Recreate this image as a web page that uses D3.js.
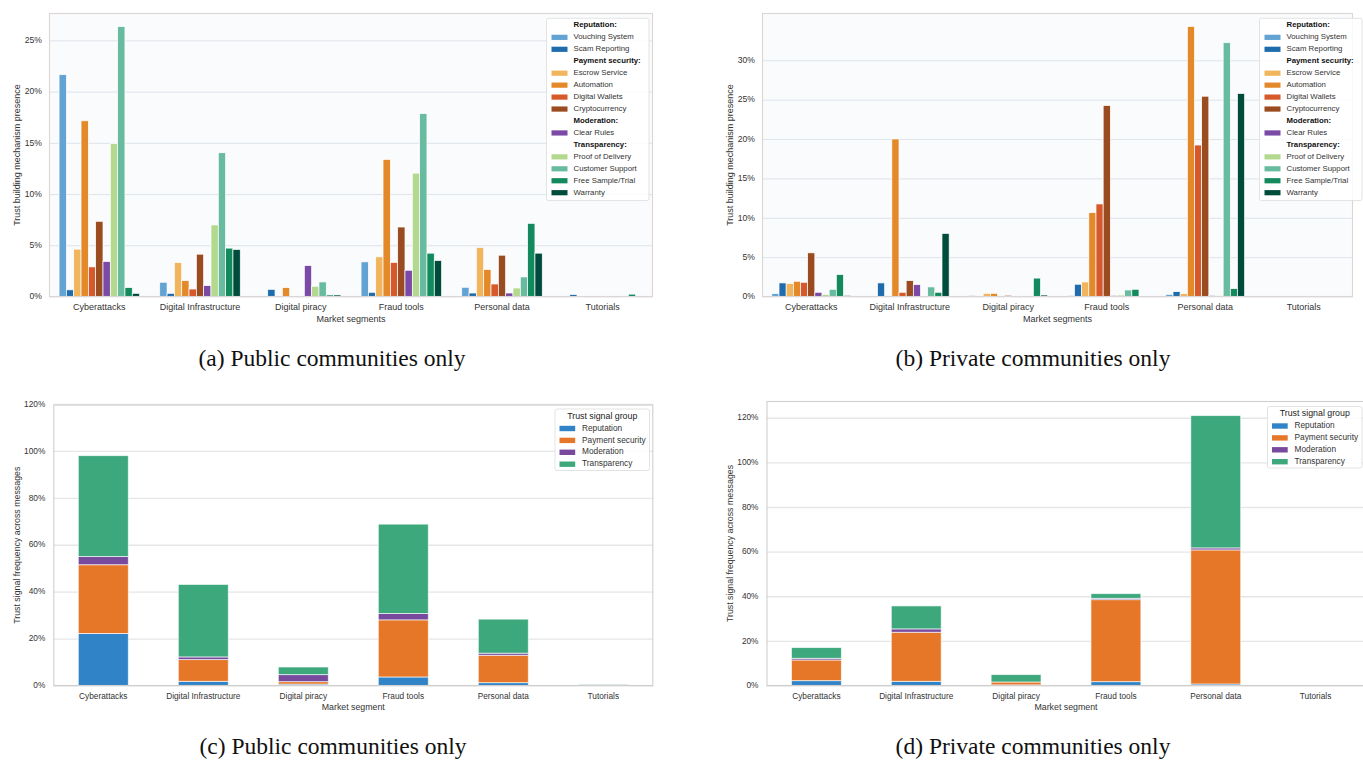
<!DOCTYPE html>
<html>
<head>
<meta charset="utf-8">
<script src="https://cdn.jsdelivr.net/npm/d3@7"></script>
<style>
  body { margin: 0; background: #ffffff; }
  svg { display: block; }
  text { font-family: "Liberation Sans", Arial, Helvetica, sans-serif; }
  .caption { font-family: "Liberation Serif", "Times New Roman", serif; }
</style>
</head>
<body>
<svg id="fig" width="1363" height="760"></svg>
<script>
// ---- data ----
const segments = ["Cyberattacks", "Digital Infrastructure", "Digital piracy", "Fraud tools", "Personal data", "Tutorials"];

const mechanisms = ["Vouching System", "Scam Reporting", "Escrow Service", "Automation", "Digital Wallets",
  "Cryptocurrency", "Clear Rules", "Proof of Delivery", "Customer Support", "Free Sample/Trial", "Warranty"];
const mechanismGroupHeaders = ["Reputation:", "Payment security:", "Moderation:", "Transparency:"];
const mechanismGroupOf = [0, 0, 1, 1, 1, 1, 2, 3, 3, 3, 3];
const mechanismColors = ["#62a3d3", "#1f6cad", "#f0b55d", "#e4892a", "#d6582b", "#9a4b1f",
  "#7a4aa6", "#b2d98e", "#69bb9f", "#128a5e", "#004c3c"];

// presence (%) of each mechanism, one row per segment, columns follow `mechanisms`
const publicPresence = [
  [21.7, 0.7, 4.67, 17.2, 2.94, 7.39, 3.46, 14.97, 26.4, 0.92, 0.36],
  [1.44, 0.36, 3.37, 1.6, 0.78, 4.18, 1.11, 7.03, 14.08, 4.77, 4.64],
  [0, 0.75, 0, 0.92, 0, 0, 3.07, 1.05, 1.47, 0.2, 0.2],
  [3.43, 0.46, 3.92, 13.43, 3.37, 6.83, 2.61, 12.09, 17.9, 4.28, 3.56],
  [0.95, 0.39, 4.84, 2.68, 1.27, 4.08, 0.39, 0.88, 1.96, 7.19, 4.28],
  [0, 0.25, 0.1, 0, 0, 0, 0, 0, 0.06, 0.28, 0]
];
const privatePresence = [
  [0.43, 1.79, 1.7, 2.0, 1.87, 5.61, 0.6, 0.34, 0.98, 2.85, 0.21],
  [0, 1.79, 0, 20.07, 0.6, 2.08, 1.57, 0, 1.28, 0.6, 8.08],
  [0.2, 0, 0.47, 0.47, 0, 0.22, 0, 0, 0, 2.4, 0.25],
  [0.2, 1.62, 1.91, 10.71, 11.82, 24.32, 0.2, 0.25, 0.89, 0.98, 0],
  [0.34, 0.68, 0.43, 34.35, 19.3, 25.5, 0.2, 0.2, 32.3, 1.06, 25.85],
  [0, 0, 0, 0, 0, 0, 0, 0, 0, 0, 0]
];

const signalGroups = ["Reputation", "Payment security", "Moderation", "Transparency"];
const signalColors = ["#3083c6", "#e67728", "#774a9e", "#3ea87d"];

// frequency (%) per signal group, one row per segment, columns follow `signalGroups`
const publicFrequency = [
  [22.4, 29.3, 3.5, 43.0],
  [2.0, 9.26, 1.14, 30.9],
  [0.8, 1.05, 3.0, 3.25],
  [3.85, 24.35, 2.7, 38.1],
  [1.43, 11.67, 0.9, 14.5],
  [0.25, 0.1, 0, 0.35]
];
const privateFrequency = [
  [2.4, 9.27, 0.75, 4.8],
  [2.1, 22.0, 1.5, 10.3],
  [0.5, 1.3, 0, 3.3],
  [1.95, 36.75, 0.6, 2.1],
  [0.9, 60.1, 0.9, 59.3],
  [0, 0, 0, 0]
];

const presenceTicksPublic = [0, 5, 10, 15, 20, 25];
const presenceTicksPrivate = [0, 5, 10, 15, 20, 25, 30];
const frequencyTicks = [0, 20, 40, 60, 80, 100, 120];

const captions = ["(a) Public communities only", "(b) Private communities only",
  "(c) Public communities only", "(d) Private communities only"];

// ---- drawing ----
const svg = d3.select("#fig");

function axesFrame(g, box, y, ticks, opts) {
  g.append("rect")
    .attr("x", box.left).attr("y", box.top)
    .attr("width", box.right - box.left).attr("height", box.bottom - box.top)
    .attr("fill", opts.bg);
  g.selectAll("line.grid").data(ticks).join("line")
    .attr("class", "grid")
    .attr("x1", box.left).attr("x2", box.right)
    .attr("y1", d => y(d)).attr("y2", d => y(d))
    .attr("stroke", opts.grid).attr("stroke-width", opts.gridWidth);
  g.selectAll("text.ytick").data(ticks).join("text")
    .attr("class", "ytick")
    .attr("x", box.left - opts.tickGap).attr("y", d => y(d))
    .attr("text-anchor", "end").attr("dominant-baseline", "middle")
    .attr("font-size", opts.tickSize).attr("fill", "#333")
    .text(d => d + "%");
}

function spines(g, box, color) {
  g.append("rect")
    .attr("x", box.left + 0.5).attr("y", box.top + 0.5)
    .attr("width", box.right - box.left - 1).attr("height", box.bottom - box.top - 1)
    .attr("fill", "none").attr("stroke", color).attr("stroke-width", 1.1);
}

function xLabels(g, x, box, ty, size) {
  g.selectAll("text.xtick").data(segments).join("text")
    .attr("class", "xtick")
    .attr("x", d => x(d) + x.bandwidth() / 2).attr("y", ty)
    .attr("text-anchor", "middle").attr("dominant-baseline", "middle")
    .attr("font-size", size).attr("fill", "#333")
    .text(d => d);
}

function axisTitles(g, box, xTitle, xy, yTitle, yx, size) {
  g.append("text")
    .attr("x", (box.left + box.right) / 2).attr("y", xy)
    .attr("text-anchor", "middle").attr("dominant-baseline", "middle")
    .attr("font-size", size).attr("fill", "#333").text(xTitle);
  g.append("text")
    .attr("transform", `translate(${yx},${(box.top + box.bottom) / 2}) rotate(-90)`)
    .attr("text-anchor", "middle").attr("dominant-baseline", "middle")
    .attr("font-size", size).attr("fill", "#333").text(yTitle);
}

function groupedPanel(box, rows, yMax, ticks, leg) {
  const g = svg.append("g");
  const x = d3.scaleBand().domain(segments).range([box.left, box.right])
    .paddingInner(0.2).paddingOuter(0.1);
  const xm = d3.scaleBand().domain(d3.range(mechanisms.length)).range([0, x.bandwidth()]);
  const y = d3.scaleLinear().domain([0, yMax]).range([box.bottom, box.top]);

  axesFrame(g, box, y, ticks, { bg: "#fafbfd", grid: "#dde4ea", gridWidth: 1, tickGap: 7, tickSize: 8.6 });

  const seg = g.selectAll("g.seg").data(rows).join("g")
    .attr("class", "seg")
    .attr("transform", (d, i) => `translate(${x(segments[i])},0)`);
  seg.selectAll("rect").data(d => d.map((v, j) => ({ v, j }))).join("rect")
    .filter(d => d.v > 0)
    .attr("x", d => xm(d.j)).attr("width", xm.bandwidth())
    .attr("y", d => y(d.v)).attr("height", d => y(0) - y(d.v))
    .attr("fill", d => mechanismColors[d.j])
    .attr("stroke", "#ffffff").attr("stroke-width", 0.7);

  spines(g, box, "#ddd6d2");
  xLabels(g, x, box, box.bottom + 11, 9);
  axisTitles(g, box, "Market segments", box.bottom + 23,
    "Trust building mechanism presence", box.left - 31, 9);

  // legend with a bold header for each mechanism group
  const entries = [];
  mechanismGroupHeaders.forEach((h, gi) => {
    entries.push({ header: true, text: h });
    mechanisms.forEach((m, j) => { if (mechanismGroupOf[j] === gi) entries.push({ header: false, text: m, j }); });
  });
  const lg = g.append("g");
  lg.append("rect")
    .attr("x", leg.x).attr("y", leg.y).attr("width", leg.w).attr("height", entries.length * 11.95 + 3)
    .attr("rx", 2).attr("fill", "#ffffff").attr("fill-opacity", 0.85)
    .attr("stroke", "#dcdcdc").attr("stroke-width", 0.8);
  const row = lg.selectAll("g").data(entries).join("g")
    .attr("transform", (d, i) => `translate(${leg.x},${leg.y + 7 + i * 11.95})`);
  row.filter(d => !d.header).append("rect")
    .attr("x", 5).attr("y", -2.5).attr("width", 16).attr("height", 5.2)
    .attr("fill", d => mechanismColors[d.j]);
  row.append("text")
    .attr("x", 27).attr("y", 0)
    .attr("dominant-baseline", "middle")
    .attr("font-size", 7.8).attr("fill", d => d.header ? "#111" : "#333")
    .attr("font-weight", d => d.header ? "bold" : "normal")
    .text(d => d.text);
}

function stackedPanel(box, rows, yMax, ticks, leg) {
  const g = svg.append("g");
  const x = d3.scaleBand().domain(segments).range([box.left, box.right])
    .paddingInner(0.5).paddingOuter(0.25);
  const y = d3.scaleLinear().domain([0, yMax]).range([box.bottom, box.top]);

  axesFrame(g, box, y, ticks, { bg: "#ffffff", grid: "#e6e6e6", gridWidth: 1.4, tickGap: 8, tickSize: 8.3 });

  const table = rows.map((r, i) => {
    const o = { segment: segments[i] };
    signalGroups.forEach((k, j) => { o[k] = r[j]; });
    return o;
  });
  const series = d3.stack().keys(signalGroups)(table);
  g.selectAll("g.layer").data(series).join("g")
    .attr("class", "layer")
    .attr("fill", (d, i) => signalColors[i])
    .selectAll("rect").data(d => d).join("rect")
    .filter(d => d[1] - d[0] > 0)
    .attr("x", d => x(d.data.segment)).attr("width", x.bandwidth())
    .attr("y", d => y(d[1])).attr("height", d => y(d[0]) - y(d[1]))
    .attr("stroke", "#ffffff").attr("stroke-opacity", 0.7).attr("stroke-width", 0.9);

  spines(g, box, "#cfcfcf");
  xLabels(g, x, box, box.bottom + 10.5, 8.3);
  axisTitles(g, box, "Market segment", box.bottom + 21.5,
    "Trust signal frequency across messages", box.left - 36, 8.8);

  const lg = g.append("g");
  lg.append("rect")
    .attr("x", leg.x).attr("y", leg.y).attr("width", leg.w).attr("height", 61.5)
    .attr("rx", 2).attr("fill", "#ffffff").attr("fill-opacity", 0.85)
    .attr("stroke", "#dcdcdc").attr("stroke-width", 0.8);
  lg.append("text")
    .attr("x", leg.x + leg.w / 2).attr("y", leg.y + 7.5)
    .attr("text-anchor", "middle").attr("dominant-baseline", "middle")
    .attr("font-size", 8.8).attr("fill", "#222").text("Trust signal group");
  const row = lg.selectAll("g.entry").data(signalGroups).join("g")
    .attr("class", "entry")
    .attr("transform", (d, i) => `translate(${leg.x},${leg.y + 19.5 + i * 11.9})`);
  row.append("rect")
    .attr("x", 4.5).attr("y", -2.7).attr("width", 15.7).attr("height", 5.4)
    .attr("fill", (d, i) => signalColors[i]);
  row.append("text")
    .attr("x", 27).attr("y", 0).attr("dominant-baseline", "middle")
    .attr("font-size", 8.3).attr("fill", "#333").text(d => d);
}

groupedPanel({ left: 49, right: 653, top: 13, bottom: 297 }, publicPresence, 27.72,
  presenceTicksPublic, { x: 546.5, y: 18.3, w: 102.5 });
groupedPanel({ left: 762, right: 1353, top: 13, bottom: 297 }, privatePresence, 36.07,
  presenceTicksPrivate, { x: 1259.5, y: 18.3, w: 102.5 });
stackedPanel({ left: 53.3, right: 653.3, top: 404.5, bottom: 686 }, publicFrequency, 120,
  frequencyTicks, { x: 555, y: 409, w: 94.5 });
stackedPanel({ left: 766.5, right: 1365.5, top: 401, bottom: 686 }, privateFrequency, 127.75,
  frequencyTicks, { x: 1267.5, y: 406.5, w: 94.5 });

// sub-figure captions
const capPos = [[332, 361], [1033, 361], [333, 749], [1033, 749]];
svg.selectAll("text.caption").data(captions).join("text")
  .attr("class", "caption")
  .attr("x", (d, i) => capPos[i][0]).attr("y", (d, i) => capPos[i][1])
  .attr("text-anchor", "middle").attr("dominant-baseline", "middle")
  .attr("font-size", 23.5).attr("fill", "#111")
  .text(d => d);
</script>
</body>
</html>
